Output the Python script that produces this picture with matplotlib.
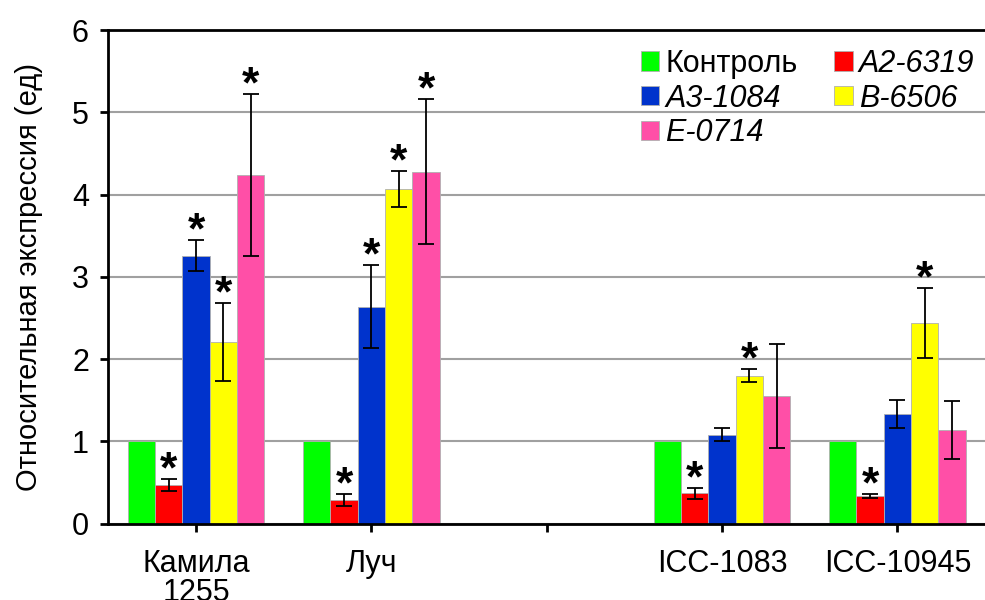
import numpy as np
import matplotlib.pyplot as plt

plt.rcParams['font.family'] = ['Liberation Sans', 'DejaVu Sans']

# данные
sorta = ["Камила\n1255", "Луч", "", "ICC-1083", "ICC-10945"]
linii = ["Контроль", "A2-6319", "A3-1084", "B-6506", "E-0714"]
cveta = ["#00ff00", "#ff0000", "#0033cc", "#ffff00", "#ff4fa7"]

kontrol = [1.0, 1.0, np.nan, 1.0, 1.0]
a2_6319 = [0.47, 0.29, np.nan, 0.37, 0.34]
a3_1084 = [3.26, 2.64, np.nan, 1.085, 1.33]
b_6506 = [2.21, 4.07, np.nan, 1.80, 2.44]
e_0714 = [4.24, 4.28, np.nan, 1.55, 1.14]

err_kontrol = [0, 0, 0, 0, 0]
err_a2 = [0.07, 0.07, 0, 0.065, 0.025]
err_a3 = [0.19, 0.50, 0, 0.08, 0.17]
err_b = [0.47, 0.22, 0, 0.08, 0.43]
err_e = [0.98, 0.88, 0, 0.63, 0.35]

# звездочки (достоверные отличия)
zvezd_a2 = [1, 1, 0, 1, 1]
zvezd_a3 = [1, 1, 0, 0, 0]
zvezd_b = [1, 1, 0, 1, 1]
zvezd_e = [1, 1, 0, 0, 0]

znach = [kontrol, a2_6319, a3_1084, b_6506, e_0714]
oshibki = [err_kontrol, err_a2, err_a3, err_b, err_e]
zvezdy = [[0] * 5, zvezd_a2, zvezd_a3, zvezd_b, zvezd_e]

fig = plt.figure(figsize=(9.85, 6), dpi=100)
ax = fig.add_axes([0.11, 0.127, 0.89, 0.823])

x = np.arange(len(sorta))
w = 0.156
stolbiki = []
for i in range(5):
    pos = x + (i - 2) * w
    vals = np.array(znach[i], dtype=float)
    errs = np.array(oshibki[i], dtype=float)
    b = ax.bar(pos, vals, w, color=cveta[i], edgecolor="#b0b0b0", linewidth=0.6, zorder=2)
    stolbiki.append(b)
    if i > 0:
        m = ~np.isnan(vals)
        ax.errorbar(pos[m], vals[m], yerr=errs[m], fmt="none", ecolor="black",
                    elinewidth=1.3, capsize=6, capthick=1.3, zorder=3)
    for j in range(len(sorta)):
        if zvezdy[i][j]:
            ax.annotate("*", (pos[j], vals[j] + errs[j]), xytext=(0, -9),
                        textcoords="offset points", ha="center", va="bottom",
                        fontsize=32, fontweight="bold", zorder=4)

ax.set_xlim(-0.5, 4.5)
ax.set_ylim(0, 6)
ax.set_yticks(range(7))
ax.yaxis.grid(True, color="#a0a0a0", linewidth=1.5, zorder=0)
ax.set_axisbelow(True)
ax.set_xticks(x)
ax.set_xticklabels(sorta, fontsize=22, linespacing=0.95)
ax.tick_params(axis="y", labelsize=22, length=6, width=2, direction="out", pad=8)
ax.tick_params(axis="x", length=6, width=2, direction="out", pad=12)
for s in ["left", "bottom", "top"]:
    ax.spines[s].set_linewidth(2)
ax.spines["right"].set_visible(False)
ax.set_ylabel("Относительная экспрессия (ед)", fontsize=21, labelpad=21)

poryadok = [0, 2, 4, 1, 3]
leg = ax.legend([stolbiki[k] for k in poryadok], [linii[k] for k in poryadok], ncol=2,
                loc="upper right", bbox_to_anchor=(1.012, 1.005), frameon=False,
                fontsize=22, handlelength=0.6, handleheight=0.6, handletextpad=0.2,
                columnspacing=1.2, labelspacing=0.15, borderaxespad=0.3)
for t in leg.get_texts():
    if t.get_text() != "Контроль":
        t.set_fontstyle("italic")

fig.savefig("out.png", dpi=100)
